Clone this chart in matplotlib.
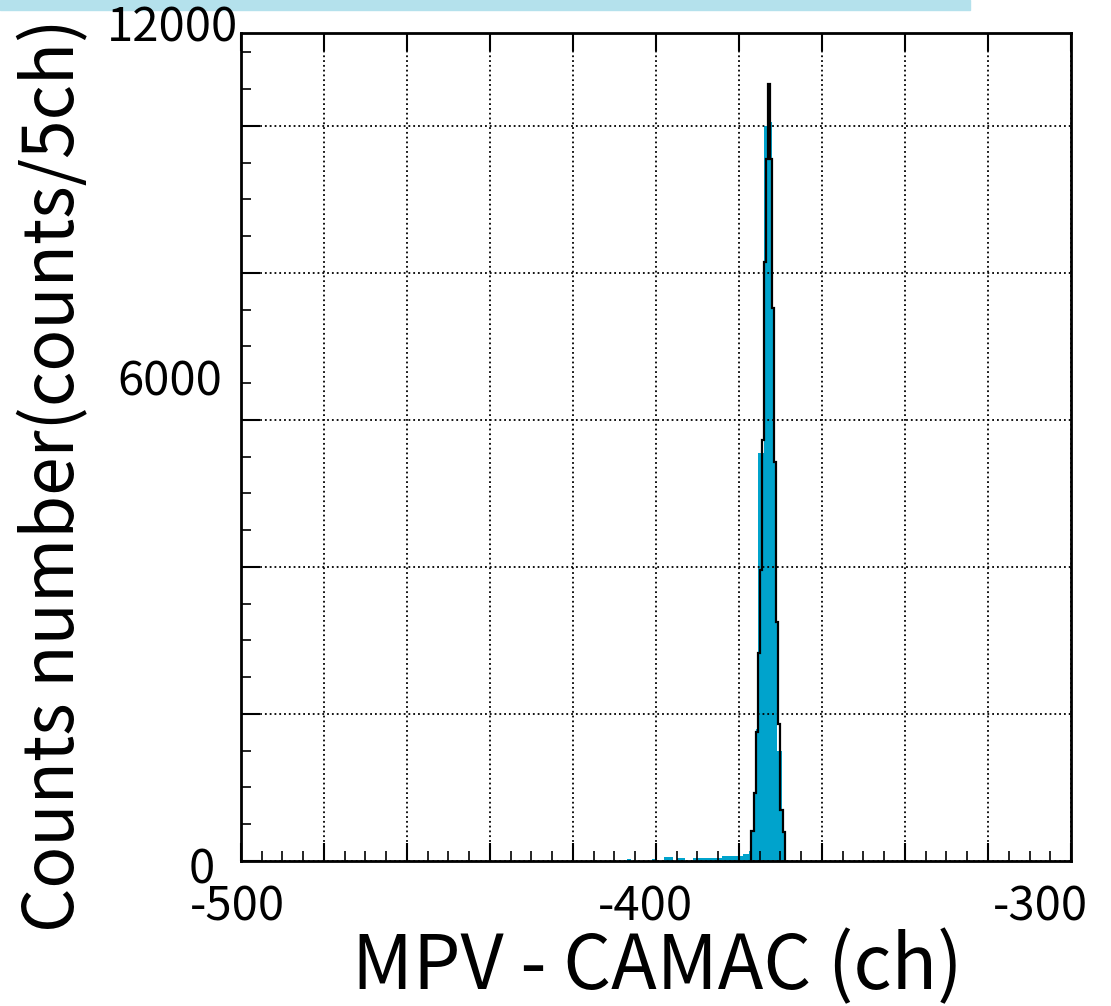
import numpy as np
import matplotlib
matplotlib.use("Agg")
import matplotlib.pyplot as plt
from matplotlib.patches import Rectangle
from matplotlib.ticker import MultipleLocator

plt.rcParams['font.family'] = ['Noto Sans CJK JP', 'DejaVu Sans']

# filled histogram (blue)
blue_edges = [-407, -406, -401, -400, -398, -396, -395, -393, -391, -384, -379,
              -377.5, -377, -376.5, -376, -375.5, -374, -373, -372, -371.5,
              -370.8, -369.6, -369.2, -368.8]
blue_counts = [30, 0, 30, 0, 55, 0, 40, 0, 45, 65, 90, 140, 412, 923, 1800,
               5550, 10000, 10060, 7520, 5410, 1490, 690, 193]

# outline histogram (black)
black_edges = [-377, -376.5, -376, -375.5, -375, -374.5, -374, -373.5, -373,
               -372.5, -372, -371.5, -371, -370.5, -370, -369.5, -369]
black_counts = [412, 923, 1758, 2830, 3960, 5730, 8150, 9550, 10570, 9550,
                7520, 5430, 3250, 1870, 690, 400]

x_labels = ["-500", "-400", "-300"]
y_labels = ["12000", "6000", "0"]

fig = plt.figure(figsize=(11.11, 10.06), dpi=100)

# decorative strip at the very top
fig.patches.append(Rectangle((0, 1 - 10/1006), 970/1111, 10/1006,
                             transform=fig.transFigure, color="#b4e1ec",
                             zorder=0))

ax = fig.add_axes([241/1111, 1 - 861/1006, 830/1111, 828/1006])

ax.stairs(blue_counts, blue_edges, fill=True, color="#00a3cc", zorder=2)
ax.stairs(black_counts, black_edges, color="k", lw=1.6, zorder=3)

ax.xaxis.set_major_locator(MultipleLocator(20))
ax.xaxis.set_minor_locator(MultipleLocator(5))
ax.yaxis.set_major_locator(MultipleLocator(2000))
ax.yaxis.set_minor_locator(MultipleLocator(500))
ax.set_xticklabels([])
ax.set_yticklabels([])

ax.set_xlim(-500, -300)
ax.set_ylim(0, 11265)

ax.tick_params(axis="x", which="major", direction="in", length=13, width=1.5,
               top=True)
ax.tick_params(axis="x", which="minor", direction="in", length=7, width=1.2)
ax.tick_params(axis="y", which="major", direction="in", length=14, width=1.5)
ax.tick_params(axis="y", which="minor", direction="in", length=7, width=1.2)

ax.grid(which="major", linestyle=":", color="k", lw=1.3)
ax.set_axisbelow(False)
for s in ax.spines.values():
    s.set_linewidth(2)

# tick labels placed where they sit in the picture (figure pixels)
for lab, px in zip(x_labels, [237, 645, 1040]):
    fig.text(px/1111, 1 - 907/1006, lab, ha="center", va="center",
             fontsize=34)
for lab, px, py in zip(y_labels, [238, 222, 215], [42, 395, 883]):
    fig.text(px/1111, 1 - py/1006, lab, ha="right", va="baseline",
             fontsize=34)

fig.text(55/1111, 1 - 475/1006, "Counts number(counts/5ch)", rotation=90,
         ha="center", va="center", fontsize=50)
fig.text(657/1111, 1 - 968/1006, "MPV - CAMAC (ch)", ha="center",
         va="center", fontsize=54)

fig.savefig("out.png", dpi=100)
